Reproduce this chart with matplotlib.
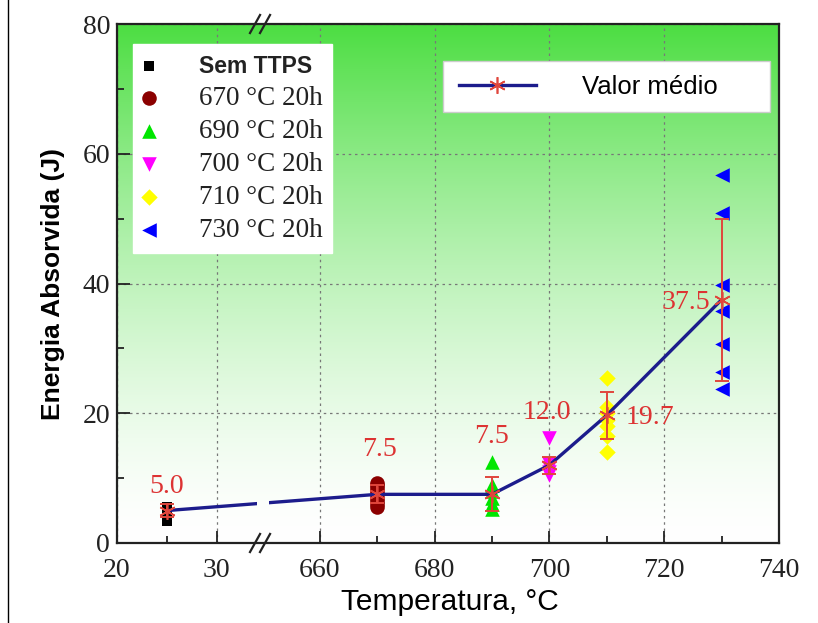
import numpy as np
import matplotlib
matplotlib.use("Agg")
import matplotlib.pyplot as plt
from matplotlib.lines import Line2D
from matplotlib.patches import Rectangle

# ---------------- data ----------------
temps = [25, 670, 690, 700, 710, 730]
series_labels = ["Sem TTPS", "670 °C 20h", "690 °C 20h", "700 °C 20h", "710 °C 20h", "730 °C 20h"]
vals_sem = [3.4, 4.5, 5.0, 5.5, 5.6]
vals_670 = [5.6, 6.0, 6.5, 7.0, 7.5, 8.0, 8.5, 9.0, 9.3]
vals_690 = [12.5, 9.0, 8.0, 7.0, 6.0, 5.3]
vals_700 = [16.2, 12.2, 11.5, 11.0, 10.5]
vals_710 = [25.4, 21.0, 20.0, 19.0, 18.0, 16.5, 14.1]
vals_730 = [56.7, 50.8, 39.7, 35.8, 30.7, 26.3, 23.7]
means = [5.0, 7.5, 7.5, 12.0, 19.7, 37.5]
errs = [1.0, 1.4, 2.6, 1.3, 3.6, 12.5]
mean_labels = ["5.0", "7.5", "7.5", "12.0", "19.7", "37.5"]
xticks_major = [20, 30, 660, 680, 700, 720, 740]
xticks_minor = [25, 670, 690, 710, 730]
yticks_major = [0, 20, 40, 60, 80]
yticks_minor = [10, 30, 50, 70]

# ---------------- style ----------------
marker_styles = [("s", "black", 60), ("o", "#8b0000", 110), ("^", "#00e600", 110),
                 ("v", "#ff00ff", 110), ("D", "#ffff00", 70), ("<", "#0000ff", 110)]
label_offsets = [(0, 17), (1.5, 32), (0, 42), (-2, 38), (31, -2), (-26, -2)]
red = "#e0463c"
navy = "#1c1c8c"
serif = ["Liberation Serif", "DejaVu Serif"]
sans = ["Liberation Sans", "DejaVu Sans"]

# broken x axis scale (left segment 20-34, right segment 650-740)
def fwd(t):
    t = np.asarray(t, dtype=float)
    return np.where(t <= 34, (t - 20) * 10.0,
                    np.where(t >= 650, 203 + (t - 660) * 5.75,
                             140 + (t - 34) * (5.5 / 616)))

def inv(p):
    p = np.asarray(p, dtype=float)
    return np.where(p <= 140, 20 + p / 10.0,
                    np.where(p >= 145.5, 660 + (p - 203) / 5.75,
                             34 + (p - 140) * (616 / 5.5)))

fig = plt.figure(figsize=(8.18, 6.23), dpi=100)
ax = fig.add_axes([117 / 818, 80 / 623, 662 / 818, 519 / 623])
ax.set_xscale("function", functions=(fwd, inv))

# gradient background
t = np.linspace(0, 1, 256)[:, None] ** 1.5
top = np.array([0.30, 0.87, 0.26])
grad = (1 - t)[..., None] * np.ones(3) + t[..., None] * top
grad = grad[::-1]
ax.imshow(grad, extent=[0, 1, 0, 1], transform=ax.transAxes, aspect="auto",
          zorder=0, interpolation="bilinear")

# scatter series
all_vals = [vals_sem, vals_670, vals_690, vals_700, vals_710, vals_730]
handles = []
for T, v, (m, c, s), lab in zip(temps, all_vals, marker_styles, series_labels):
    h = ax.scatter([T] * len(v), v, marker=m, color=c, s=s, linewidths=0,
                   zorder=2.5, label=lab)
    handles.append(h)

# mean line (broken at axis break)
for clip in [(0, 0.212), (0.229, 1.0)]:
    ln, = ax.plot(temps, means, color=navy, lw=2.4, zorder=3)
    rect = Rectangle((clip[0], -0.1), clip[1] - clip[0], 1.2, transform=ax.transAxes)
    ln.set_clip_path(rect)

# error bars and mean markers
ax.errorbar(temps, means, yerr=errs, fmt="none", ecolor=red, elinewidth=1.4,
            capsize=5, capthick=1.4, zorder=4)
ax.plot(temps, means, linestyle="none", marker=(6, 2, 0), color=red,
        markersize=12, mew=1.2, zorder=4.5)

for T, mval, lab, off in zip(temps, means, mean_labels, label_offsets):
    ax.annotate(lab, (T, mval), xytext=off, textcoords="offset points",
                ha="center", va="center", color="#dd3333", fontsize=20,
                family=serif, zorder=5)

# axes
ax.set_xlim(20, 740)
ax.set_ylim(0, 80)
ax.set_xticks(xticks_major)
ax.set_xticks(xticks_minor, minor=True)
ax.set_xticklabels([str(v) for v in xticks_major])
ax.set_yticks(yticks_major)
ax.set_yticks(yticks_minor, minor=True)
ax.tick_params(which="both", direction="in", top=False, right=False, width=1.3,
               color="#222222")
ax.tick_params(which="major", length=9, labelsize=20)
ax.tick_params(axis="x", which="major", pad=11)
ax.tick_params(axis="y", which="major", pad=5)
ax.tick_params(which="minor", length=5)
for lbl in ax.get_xticklabels() + ax.get_yticklabels():
    lbl.set_family(serif)
    lbl.set_color("#222222")
for sp in ax.spines.values():
    sp.set_linewidth(1.6)
    sp.set_color("#222222")
ax.grid(True, which="major", color="#777777", linestyle=(0, (2, 3)), linewidth=0.9)

ax.set_ylabel("Energia Absorvida (J)", fontsize=19, fontweight="bold", family=sans)
ax.yaxis.set_label_coords(-0.078, 0.5)
ax.set_xlabel("Temperatura, °C", fontsize=21.5, family=sans)
ax.xaxis.set_label_coords(0.503, -0.087)

# break marks
for yb in (0.0, 1.0):
    for xc in (0.2085, 0.2236):
        ax.plot([xc - 0.0076, xc + 0.0076], [yb - 0.0174, yb + 0.0174],
                transform=ax.transAxes, color="#222222", lw=1.6, clip_on=False,
                zorder=6)

# legend 1
leg1 = ax.legend(handles, series_labels, loc="upper left",
                 bbox_to_anchor=(0.024, 0.961), borderaxespad=0, frameon=True,
                 fancybox=False, edgecolor="white", framealpha=1,
                 prop={"family": serif, "size": 19.5}, labelspacing=0.3,
                 handletextpad=1.6, handlelength=0.5, borderpad=0.35,
                 scatterpoints=1)
t0 = leg1.get_texts()[0]
t0.set_fontfamily(sans)
t0.set_fontweight("bold")
t0.set_fontsize(16.5)
for tx in leg1.get_texts():
    tx.set_color("#222222")
ax.add_artist(leg1)

# legend 2 (mean line)
box = Rectangle((0.4924, 0.830), 0.494, 0.0986, transform=ax.transAxes,
                facecolor="white", edgecolor="#cccccc", lw=1, zorder=4.9)
ax.add_patch(box)
mh = Line2D([], [], color=navy, lw=2.4, marker=(6, 2, 0), markersize=12,
            markeredgecolor=red, mew=1.2)
leg2 = ax.legend([mh], ["Valor médio"], loc="center left",
                 bbox_to_anchor=(0.516, 0.879), borderaxespad=0, borderpad=0,
                 frameon=False, prop={"family": sans, "size": 18.5},
                 handlelength=3.0, handletextpad=1.8)
leg2.set_zorder(5)

# thin frame line at the left of the figure
fig.add_artist(Line2D([8 / 818, 8 / 818], [0, 1], transform=fig.transFigure,
                      color="black", lw=1))

fig.savefig("out.png", dpi=100)
